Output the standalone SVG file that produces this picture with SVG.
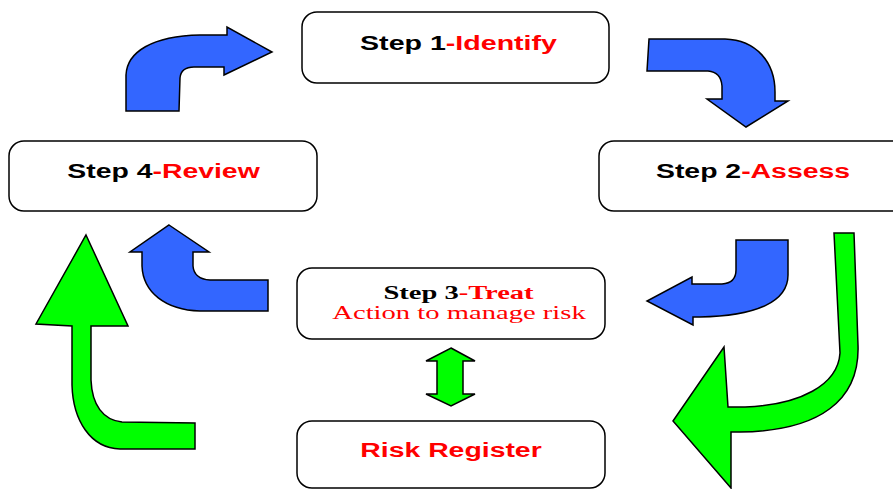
<svg xmlns="http://www.w3.org/2000/svg" width="893" height="489" viewBox="0 0 893 489">
  <style>
    .box { fill: #ffffff; stroke: #000000; stroke-width: 1.5; }
    .blue { fill: #3366ff; stroke: #000000; stroke-width: 1.5; stroke-linejoin: miter; }
    .green { fill: #00ff00; stroke: #000000; stroke-width: 1.5; stroke-linejoin: miter; }
    .sans { font-family: "Liberation Sans", Arial, sans-serif; font-weight: bold; font-size: 20px; }
    .serif { font-family: "Liberation Serif", "Times New Roman", serif; font-size: 18px; }
    .blk { fill: #000000; }
    .red { fill: #ff0000; }
  </style>
  <rect width="893" height="489" fill="#ffffff"/>

  <!-- cycle arrows -->
  <g id="connectors">
    <!-- Step 4 -> Step 1 -->
    <path class="blue" d="M126,111 L179,111 L180,78 Q181,67 194,67 L224,67 L224,75 L272,52 L227,27 L227,35 L200,35 C152,36 127,52 126,75 Z"/>
    <!-- Step 1 -> Step 2 -->
    <path class="blue" d="M649,39 L725,39 C756,40 775,62 775,92 L775,101 L788,101 L746,127 L707,99 L722,99 L722,86 Q721,72 708,71 L647,71 Z"/>
    <!-- Step 2 -> Step 3 -->
    <path class="blue" d="M736,240 L788,240 L788,275 C788,301 758,316 700,317 L693,317 L693,325 L647,301 L692,277 L692,284 L722,284 Q736,283 736,270 Z"/>
    <!-- Step 3 -> Step 4 -->
    <path class="blue" d="M169,225 L209,252 L193,252 L193,266 Q194,279 210,280 L268,280 L268,311 L200,311 C165,310 143,292 142,266 L142,252 L130,252 Z"/>
    <!-- Risk Register -> Step 4 -->
    <path class="green" d="M86,235 L128,326 L91,326 L91,380 C92,405 103,420 122,422 L195,423 L195,449 L120,449 C90,448 73,420 72,385 L72,326 L36,324 Z"/>
    <!-- Step 2 -> Risk Register -->
    <path class="green" d="M834,233 L854,233 L858,345 C860,400 820,431 740,432 L731,432 L731,488 L673,421 L724,347 L728,407 L745,407 C800,405 838,385 840,353 Z"/>
    <!-- Step 3 <-> Risk Register -->
    <path class="green" d="M451,348 L475,361 L463,361 L463,394 L475,394 L451,406 L426,394 L437,394 L437,361 L426,361 Z"/>
  </g>

  <g id="step1">
    <rect class="box" x="302" y="12" width="307" height="71" rx="15"/>
    <text class="sans" text-anchor="middle" transform="translate(458.5,50) scale(1.43,1)"><tspan class="blk">Step 1</tspan><tspan class="red">-Identify</tspan></text>
  </g>

  <g id="step2">
    <rect class="box" x="599" y="141" width="310" height="70" rx="15"/>
    <text class="sans" text-anchor="middle" transform="translate(753,178) scale(1.42,1)"><tspan class="blk">Step 2</tspan><tspan class="red">-Assess</tspan></text>
  </g>

  <g id="step3">
    <rect class="box" x="297" y="268" width="308" height="71" rx="15"/>
    <text class="serif" font-weight="bold" text-anchor="middle" transform="translate(458.5,299) scale(1.585,1)"><tspan class="blk">Step 3</tspan><tspan class="red">-Treat</tspan></text>
    <text class="serif red" text-anchor="middle" transform="translate(459,319) scale(1.59,1)">Action to manage risk</text>
  </g>

  <g id="step4">
    <rect class="box" x="9" y="141" width="308" height="70" rx="15"/>
    <text class="sans" text-anchor="middle" transform="translate(163.5,178) scale(1.42,1)"><tspan class="blk">Step 4</tspan><tspan class="red">-Review</tspan></text>
  </g>

  <g id="risk-register">
    <rect class="box" x="297" y="421" width="308" height="67" rx="15"/>
    <text class="sans red" text-anchor="middle" transform="translate(451,457) scale(1.42,1)">Risk Register</text>
  </g>
</svg>
